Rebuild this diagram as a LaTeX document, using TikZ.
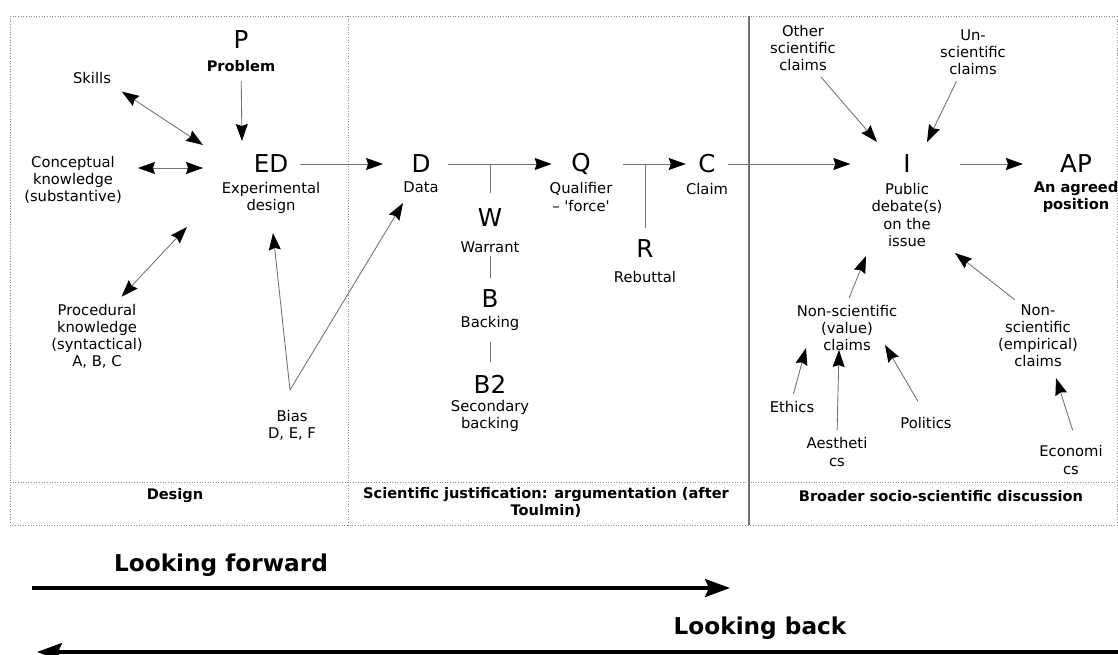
\documentclass[tikz,border=0pt]{standalone}
\usepackage{fontspec}
\setmainfont{DejaVu Sans}
\usetikzlibrary{arrows.meta}

\begin{document}
\begin{tikzpicture}[x=0.02cm,y=-0.02cm,
    txt/.style={font=\fontsize{8.4}{9.7}\selectfont,align=center,inner sep=1pt},
    big/.style={font=\fontsize{14}{16}\selectfont,inner sep=1pt},
    bld/.style={font=\fontsize{8.3}{9.7}\selectfont\bfseries,align=center,inner sep=1pt},
    look/.style={font=\fontsize{13.2}{15}\selectfont\bfseries,inner sep=1pt},
    link/.style={draw=black!55,line width=0.5pt},
    arr/.style={link,-{Stealth[length=3.4mm,width=2.4mm,inset=0.4mm,color=black]}},
    darr/.style={link,{Stealth[length=3.4mm,width=2.4mm,inset=0.4mm,color=black]}-{Stealth[length=3.4mm,width=2.4mm,inset=0.4mm,color=black]}},
    panel/.style={draw=black!45,densely dotted,line width=0.5pt},
    bigarr/.style={line width=1.8pt,-{Stealth[length=5mm,width=3.6mm,inset=0.8mm]}}]
    \useasboundingbox (0,0) rectangle (1118,655);

    % panels
    \draw[panel] (10,16) rectangle (1117,525);
    \draw[panel] (10,482) -- (1117,482);
    \draw[panel] (348,16) -- (348,525);
    \draw[black!55,line width=0.9pt] (749,16) -- (749,525);

    % design
    \node[big] (P) at (241,40) {P};
    \node[bld] (Prob) at (241,66) {Problem};
    \node[txt] (Skills) at (92,78) {Skills};
    \node[txt] (Conc) at (73,180) {Conceptual\\knowledge\\(substantive)};
    \node[big] (ED) at (271,164) {ED};
    \node[txt] (EDt) at (271,198) {Experimental\\design};
    \node[txt] (Proc) at (97,336) {Procedural\\knowledge\\(syntactical)\\A, B, C};
    \node[txt] (Bias) at (292,425) {Bias\\D, E, F};

    % argumentation
    \node[big] (D) at (421,164) {D};
    \node[txt] (Data) at (421,187) {Data};
    \node[big] (W) at (490,218) {W};
    \node[txt] (Warr) at (490,247) {Warrant};
    \node[big] (B) at (490,299) {B};
    \node[txt] (Back) at (490,323) {Backing};
    \node[big] (B2) at (490,384) {B2};
    \node[txt] (SBack) at (490,416) {Secondary\\backing};
    \node[big] (Q) at (581,164) {Q};
    \node[txt] (Qual) at (581,197) {Qualifier\\-- \textquotesingle force\textquotesingle};
    \node[big] (R) at (645,249) {R};
    \node[txt] (Reb) at (645,277) {Rebuttal};
    \node[big] (C) at (707,164) {C};
    \node[txt] (Claim) at (707,189) {Claim};

    % discussion
    \node[big] (I) at (907,164) {I};
    \node[txt] (Pub) at (907,215) {Public\\debate(s)\\on the\\issue};
    \node[big] (AP) at (1076,164) {AP};
    \node[bld] (Agr) at (1076,197) {An agreed\\position};
    \node[txt] (Oth) at (803,48) {Other\\scientific\\claims};
    \node[txt] (Uns) at (973,52) {Un-\\scientific\\claims};
    \node[txt] (NSv) at (847,328) {Non-scientific\\(value)\\claims};
    \node[txt] (NSe) at (1038,336) {Non-\\scientific\\(empirical)\\claims};
    \node[txt] (Eth) at (792,407) {Ethics};
    \node[txt] (Aes) at (837,452) {Aestheti\\cs};
    \node[txt] (Pol) at (926,423) {Politics};
    \node[txt] (Eco) at (1071,460) {Economi\\cs};

    % panel titles
    \node[bld] (Des) at (175,496) {Design};
    \node[bld] (Just) at (546,502) {Scientific justification: argumentation (after\\Toulmin)};
    \node[bld] (Broad) at (941,496) {Broader socio-scientific discussion};
    \node[look] (LF) at (221,565) {Looking forward};
    \node[look] (LB) at (760,628) {Looking back};

    % free ends
    \coordinate (edP) at (242,141);
    \coordinate (edS) at (203,145);
    \coordinate (edC) at (203,168);
    \coordinate (edPr) at (187,227);
    \coordinate (edB) at (273,233);
    \coordinate (dB) at (403,203);
    \coordinate (bv) at (290,390);
    \coordinate (iO) at (877,142);
    \coordinate (iU) at (927,142);
    \coordinate (iV) at (866,256);
    \coordinate (iE) at (955,253);
    \coordinate (vE) at (806,348);
    \coordinate (vA) at (839,350);
    \coordinate (vP) at (885,345);
    \coordinate (eE) at (1056,378);
    \coordinate (lfS) at (32,588);
    \coordinate (lfE) at (730,588);
    \coordinate (lbS) at (1118,652);
    \coordinate (lbE) at (37,652);

    % connectors
    \draw[arr,shorten <=4pt] (Prob) -- (edP);
    \draw[darr,shorten <=6pt] (Skills.south east) -- (edS);
    \draw[darr,shorten <=8pt] (Conc.east |- edC) -- (edC);
    \draw[darr,shorten <=4pt] (Proc.60) -- (edPr);
    \draw[arr] (bv) -- (edB);
    \draw[arr] (bv) -- (dB);
    \draw[arr,shorten <=5.5pt,shorten >=15pt] (ED) -- (D);
    \draw[arr,shorten <=9pt,shorten >=10pt] (D) -- (Q);
    \draw[link,shorten <=8pt] (W.north) -- (W.north |- D);
    \draw[link,shorten <=1pt,shorten >=5.5pt] (Warr) -- (B);
    \draw[link,shorten <=5.5pt,shorten >=6pt] (Back) -- (B2);
    \draw[arr,shorten <=17pt,shorten >=6pt] (Q) -- (C);
    \draw[link,shorten <=5.5pt] (R.north) -- (R.north |- Q);
    \draw[arr,shorten <=6pt,shorten >=29pt] (C) -- (I);
    \draw[arr,shorten <=27pt,shorten >=20pt] (I) -- (AP);
    \draw[arr,shorten <=3pt] (Oth.-60) -- (iO);
    \draw[arr,shorten <=3pt] (Uns.-120) -- (iU);
    \draw[arr,shorten <=3pt] (NSv.north) -- (iV);
    \draw[arr,shorten <=3pt] (NSe.120) -- (iE);
    \draw[arr,shorten <=3pt] (Eth.north) -- (vE);
    \draw[arr,shorten <=3pt] (Aes.north) -- (vA);
    \draw[arr,shorten <=9pt] (Pol.north) -- (vP);
    \draw[arr,shorten <=8pt] (Eco.70) -- (eE);
    \draw[bigarr] (lfS) -- (lfE);
    \draw[bigarr] (lbS) -- (lbE);
\end{tikzpicture}
\end{document}
